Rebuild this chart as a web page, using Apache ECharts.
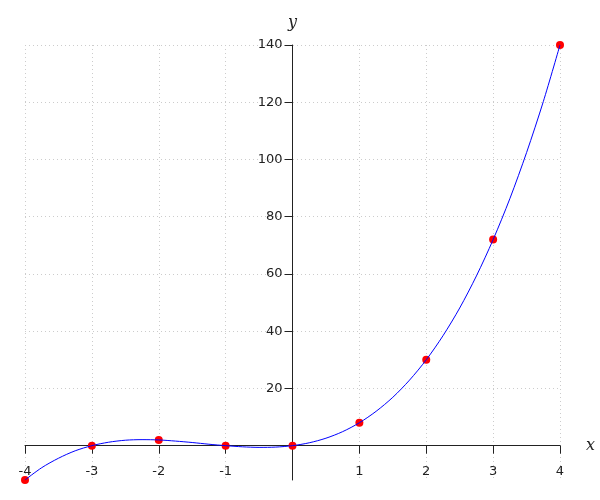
<!DOCTYPE html>
<html>
<head>
<meta charset="utf-8">
<script src="https://cdn.jsdelivr.net/npm/echarts@6/dist/echarts.min.js"></script>
<style>html,body{margin:0;padding:0;background:#fff}#c{width:600px;height:500px}</style>
</head>
<body>
<div id="c"></div>
<script>
// marked points
var pointX = [-4, -3, -2, -1, 0, 1, 2, 3, 4];
var pointY = [-12, 0, 2, 0, 0, 8, 30, 72, 140];
// curve samples
var curveX = [-4, -3.75, -3.5, -3.25, -3, -2.75, -2.5, -2.25, -2, -1.75, -1.5, -1.25, -1, -0.75, -0.5, -0.25,
              0, 0.25, 0.5, 0.75, 1, 1.25, 1.5, 1.75, 2, 2.25, 2.5, 2.75, 3, 3.25, 3.5, 3.75, 4];
var curveY = [-12, -7.7, -4.4, -1.8, 0, 1.2, 1.9, 2.1, 2, 1.6, 1.1, 0.5, 0, -0.4, -0.6, -0.5,
              0, 1.0, 2.6, 4.9, 8, 12.0, 16.9, 22.9, 30, 38.4, 48.1, 59.3, 72, 86.3, 102.4, 120.2, 140];
// y tick labels
var yTicks = [20, 40, 60, 80, 100, 120, 140];

var chart = echarts.init(document.getElementById('c'), null, {renderer: 'canvas'});
var grid = {color: '#cccccc', type: [1, 3], width: 1};
chart.setOption({
  animation: false,
  backgroundColor: '#ffffff',
  grid: {left: 25, right: 40, top: 45, bottom: 20, containLabel: false, outerBoundsMode: 'none'},
  xAxis: {
    type: 'value', min: -4, max: 4, interval: 1, position: 'bottom', offset: 0,
    name: 'x', nameLocation: 'end', nameGap: 26,
    nameTextStyle: {fontFamily: 'DejaVu Serif', fontStyle: 'italic', fontSize: 16, color: '#222'},
    axisLine: {onZero: false, lineStyle: {color: '#222', width: 1}},
    axisTick: {show: true, length: 8, lineStyle: {color: '#222'}},
    axisLabel: {margin: 19, fontFamily: 'DejaVu Sans', fontSize: 13, color: '#222',
      formatter: function (v) { return v === 0 ? '' : String(v); }},
    splitLine: {show: true, lineStyle: grid}
  },
  yAxis: {
    type: 'value', min: -12, max: 140, position: 'left', offset: 0,
    name: 'y', nameLocation: 'end', nameGap: 14,
    nameTextStyle: {fontFamily: 'DejaVu Serif', fontStyle: 'italic', fontSize: 16, color: '#222'},
    axisLine: {onZero: false, lineStyle: {color: '#222', width: 1}},
    axisTick: {show: true, length: 8, customValues: yTicks, lineStyle: {color: '#222'}},
    axisLabel: {margin: 10, fontFamily: 'DejaVu Sans', fontSize: 13, color: '#222', customValues: yTicks},
    splitLine: {show: true, lineStyle: grid}
  },
  series: [
    {
      type: 'line', smooth: 0.3, showSymbol: false, silent: true,
      data: curveX.map(function (x, i) { return [x, curveY[i]]; }),
      lineStyle: {color: '#0000ff', width: 1}
    },
    {
      type: 'scatter', symbolSize: 8, silent: true,
      data: pointX.map(function (x, i) { return [x, pointY[i]]; }),
      itemStyle: {color: '#ff0000', opacity: 1}
    }
  ]
});
// move both axes so they cross at the origin, using the chart's own scales
var origin = chart.convertToPixel({gridIndex: 0}, [0, 0]);
var corner = chart.convertToPixel({gridIndex: 0}, [-4, -12]);
chart.setOption({
  xAxis: {offset: -(corner[1] - origin[1])},
  yAxis: {offset: -(origin[0] - corner[0])}
});
</script>
</body>
</html>
